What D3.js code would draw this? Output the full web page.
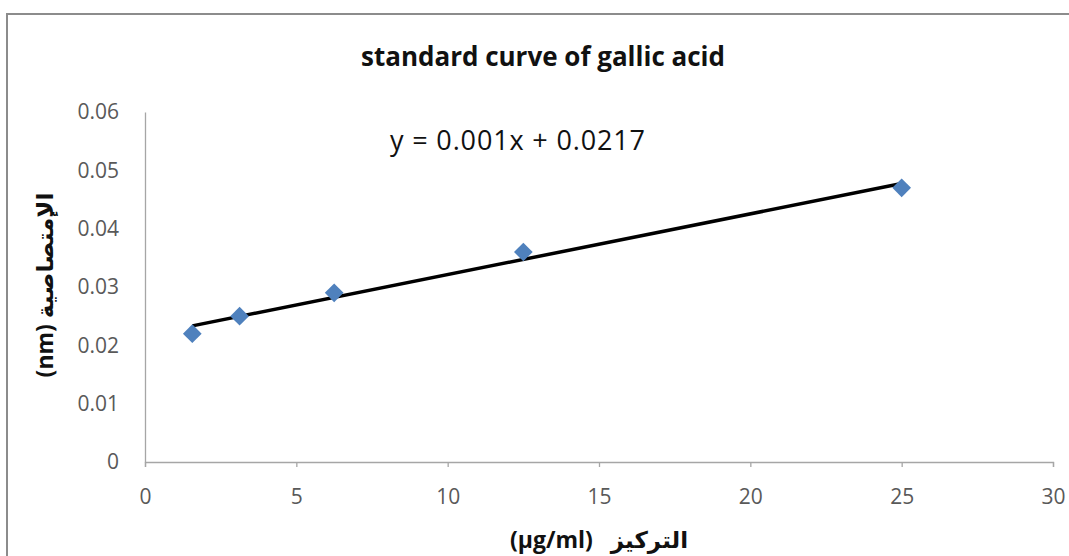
<!DOCTYPE html>
<html>
<head>
<meta charset="utf-8">
<script src="https://cdn.jsdelivr.net/npm/d3@7"></script>
<style>
  body { margin: 0; background: #fff; }
  svg { display: block; font-family: "Open Sans", "DejaVu Sans", sans-serif; }
</style>
</head>
<body>
<svg id="chart" width="1069" height="556"></svg>
<script>
// concentration (µg/ml) vs absorbance
const concentration = [1.5625, 3.125, 6.25, 12.5, 25];
const absorbance = [0.022, 0.025, 0.029, 0.036, 0.047];
const xTicks = [0, 5, 10, 15, 20, 25, 30];
const yTicks = [0, 0.01, 0.02, 0.03, 0.04, 0.05, 0.06];
const titleText = 'standard curve of gallic acid';
const equationText = 'y = 0.001x + 0.0217';
const xTitle = '(µg/ml)   التركيز';
const yTitle = '(nm) الإمتصاصية';

const width = 1069, height = 556;
const margin = {left: 145, right: 16, top: 112, bottom: 94};

const svg = d3.select('#chart');

// outer chart frame (runs off the right / bottom of the picture)
svg.append('rect')
    .attr('x', 7).attr('y', 14)
    .attr('width', 1100).attr('height', 600)
    .attr('fill', 'none')
    .attr('stroke', '#8c8c8c')
    .attr('stroke-width', 2);

const x = d3.scaleLinear().domain([0, 30]).range([margin.left, width - margin.right]);
const y = d3.scaleLinear().domain([0, 0.06]).range([height - margin.bottom, margin.top]);

// axes
const xAxis = svg.append('g')
    .attr('transform', `translate(0,${y(0)})`)
    .call(d3.axisBottom(x).tickValues(xTicks).tickSize(5).tickPadding(22).tickFormat(d3.format('d')));
const yAxis = svg.append('g')
    .attr('transform', `translate(${x(0)},0)`)
    .call(d3.axisLeft(y).tickValues(yTicks).tickSize(0).tickPadding(26)
        .tickFormat(d => d === 0 ? '0' : d3.format('.2f')(d)));

[xAxis, yAxis].forEach(g => {
    g.select('.domain').attr('stroke', '#a6a6a6').attr('stroke-width', 1.3);
    g.selectAll('.tick line').attr('stroke', '#a6a6a6').attr('stroke-width', 1.3);
    g.selectAll('.tick text')
        .attr('fill', '#595959')
        .style('font-size', '21px')
        .style('font-family', '"Open Sans", sans-serif');
});

// linear trendline (least squares) drawn between the first and last point
const mx = d3.mean(concentration), my = d3.mean(absorbance);
const slope = d3.sum(concentration, (c, i) => (c - mx) * (absorbance[i] - my)) /
    d3.sum(concentration, c => (c - mx) * (c - mx));
const intercept = my - slope * mx;
const xr = d3.extent(concentration);

svg.append('line')
    .attr('x1', x(xr[0])).attr('y1', y(slope * xr[0] + intercept))
    .attr('x2', x(xr[1])).attr('y2', y(slope * xr[1] + intercept))
    .attr('stroke', '#000')
    .attr('stroke-width', 3.5);

// diamond markers
const pts = concentration.map((c, i) => ({c, a: absorbance[i]}));
svg.append('g').selectAll('path')
    .data(pts)
    .join('path')
    .attr('d', d3.symbol(d3.symbolSquare, 175)())
    .attr('transform', d => `translate(${x(d.c)},${y(d.a)}) rotate(45)`)
    .attr('fill', '#4f81bd');

// texts
svg.append('text')
    .attr('x', 543).attr('y', 66)
    .attr('text-anchor', 'middle')
    .style('font-size', '26px')
    .style('font-weight', 'bold')
    .attr('fill', '#111')
    .text(titleText);

svg.append('text')
    .attr('x', 390).attr('y', 150)
    .attr('textLength', 255)
    .style('font-size', '27px')
    .attr('fill', '#111')
    .text(equationText);

svg.append('text')
    .attr('x', 599).attr('y', 548)
    .attr('text-anchor', 'middle')
    .attr('direction', 'ltr')
    .attr('xml:space', 'preserve')
    .style('white-space', 'pre')
    .style('font-size', '23px')
    .style('font-weight', 'bold')
    .attr('fill', '#111')
    .text(xTitle);

svg.append('text')
    .attr('transform', 'translate(53,285) rotate(-90)')
    .attr('text-anchor', 'middle')
    .attr('direction', 'ltr')
    .style('font-size', '23px')
    .style('font-weight', 'bold')
    .attr('fill', '#111')
    .text(yTitle);
</script>
</body>
</html>
